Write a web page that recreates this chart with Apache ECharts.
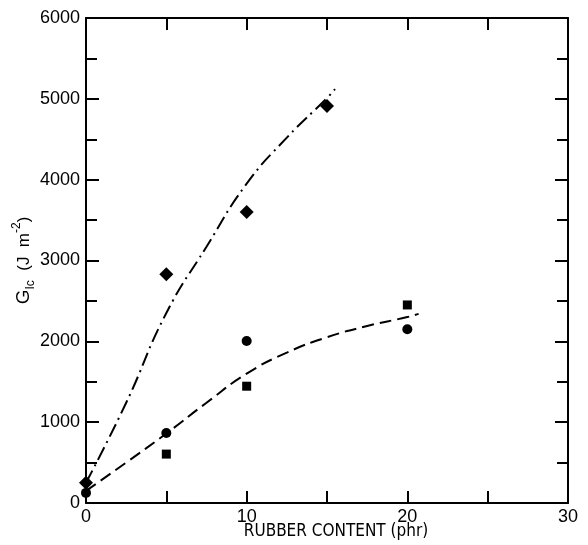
<!DOCTYPE html>
<html>
<head>
<meta charset="utf-8">
<script src="https://cdn.jsdelivr.net/npm/echarts@6/dist/echarts.min.js"></script>
<style>
  html, body { margin: 0; padding: 0; background: #fff; }
  #main { width: 588px; height: 545px; }
</style>
</head>
<body>
<div id="main"></div>
<script>
// measured points (rubber content phr, G_Ic J/m2)
var diamondX = [0, 5, 10, 15];
var diamondY = [250, 2830, 3600, 4910];
var circleX = [0, 5, 10, 20];
var circleY = [125, 865, 2005, 2150];
var squareX = [5, 10, 20];
var squareY = [605, 1445, 2450];

// hand-drawn fit curves
var dashDotX = [0, 2.5, 5, 7.5, 10, 12.5, 15, 15.5];
var dashDotY = [250, 1240, 2350, 3170, 3950, 4520, 5010, 5120];
var dashX = [0, 2.5, 5, 7.5, 10, 12.5, 15, 17.5, 20, 20.7];
var dashY = [150, 500, 860, 1240, 1600, 1860, 2050, 2190, 2300, 2340];

var xTicks = [0, 30, 10];   // min, max, interval
var yTicks = [0, 6000, 1000];

function pairs(xs, ys) {
    var out = [];
    for (var i = 0; i < xs.length; i++) {
        out.push([xs[i], ys[i]]);
    }
    return out;
}

var fontFam = 'Liberation Sans';
var narrowFam = '"Liberation Sans Narrow", "DejaVu Sans Condensed", "Liberation Sans"';
var ink = '#000000';

function xAx(pos, showLabel, name) {
    return {
        type: 'value',
        position: pos,
        min: xTicks[0],
        max: xTicks[1],
        interval: xTicks[2],
        name: name || '',
        nameLocation: 'middle',
        nameGap: 20,
        nameMoveOverlap: false,
        nameTextStyle: { color: ink, fontFamily: narrowFam, fontSize: 17, padding: [0, 0, 0, 18] },
        axisLine: { show: true, onZero: false, lineStyle: { color: ink, width: 2 } },
        axisTick: { show: true, inside: true, length: 12, lineStyle: { color: ink, width: 2 } },
        minorTick: { show: true, splitNumber: 2, length: 12, lineStyle: { color: ink, width: 2 } },
        axisLabel: { show: showLabel, color: ink, fontFamily: fontFam, fontSize: 18, margin: 5,
            formatter: function (v) { return String(v); } },
        splitLine: { show: false },
        minorSplitLine: { show: false }
    };
}

function yAx(pos, showLabel, name) {
    return {
        type: 'value',
        position: pos,
        min: yTicks[0],
        max: yTicks[1],
        interval: yTicks[2],
        name: name || '',
        nameLocation: 'middle',
        nameGap: 47,
        nameMoveOverlap: false,
        nameTextStyle: {
            color: ink, fontFamily: fontFam,
            rich: {
                g: { fontSize: 19, fontFamily: fontFam, color: ink, lineHeight: 30, verticalAlign: 'middle' },
                s: { fontSize: 12, fontFamily: fontFam, color: ink, lineHeight: 30, verticalAlign: 'bottom', padding: [0, 0, 2, 0] },
                n: { fontSize: 17, fontFamily: fontFam, color: ink, lineHeight: 30, verticalAlign: 'middle' },
                p: { fontSize: 12, fontFamily: fontFam, color: ink, lineHeight: 30, verticalAlign: 'top', padding: [2, 0, 0, 0] }
            }
        },
        axisLine: { show: true, onZero: false, lineStyle: { color: ink, width: 2 } },
        axisTick: { show: true, inside: true, length: 13, lineStyle: { color: ink, width: 2 } },
        minorTick: { show: true, splitNumber: 2, length: 11, lineStyle: { color: ink, width: 2 } },
        axisLabel: { show: showLabel, color: ink, fontFamily: fontFam, fontSize: 18, margin: 6,
            formatter: function (v) { return String(v); } },
        splitLine: { show: false },
        minorSplitLine: { show: false }
    };
}

var myChart = echarts.init(document.getElementById('main'), null, { renderer: 'canvas' });

var option = {
    backgroundColor: '#ffffff',
    animation: false,
    grid: { left: 86, right: 20, top: 18, bottom: 42, containLabel: false, outerBoundsMode: 'none' },
    xAxis: [
        xAx('bottom', true, 'RUBBER CONTENT (phr)'),
        xAx('top', false)
    ],
    yAxis: [
        yAx('left', true, '{g|G}{s|Ic}{n|  (J  m}{p|-2}{n|)}'),
        yAx('right', false)
    ],
    series: [
        {
            name: 'fit-dashdot',
            type: 'line',
            smooth: 0.5,
            showSymbol: false,
            silent: true,
            lineStyle: { color: ink, width: 2, type: [14, 5, 2, 5] },
            data: pairs(dashDotX, dashDotY)
        },
        {
            name: 'fit-dash',
            type: 'line',
            smooth: 0.5,
            showSymbol: false,
            silent: true,
            lineStyle: { color: ink, width: 2, type: [12, 6] },
            data: pairs(dashX, dashY)
        },
        {
            name: 'diamond',
            type: 'scatter',
            symbol: 'diamond',
            symbolSize: [14, 14],
            itemStyle: { color: ink, opacity: 1 },
            data: pairs(diamondX, diamondY)
        },
        {
            name: 'circle',
            type: 'scatter',
            symbol: 'circle',
            symbolSize: 10,
            itemStyle: { color: ink, opacity: 1 },
            data: pairs(circleX, circleY)
        },
        {
            name: 'square',
            type: 'scatter',
            symbol: 'rect',
            symbolSize: 9,
            itemStyle: { color: ink, opacity: 1 },
            data: pairs(squareX, squareY)
        }
    ]
};

myChart.setOption(option);
</script>
</body>
</html>
